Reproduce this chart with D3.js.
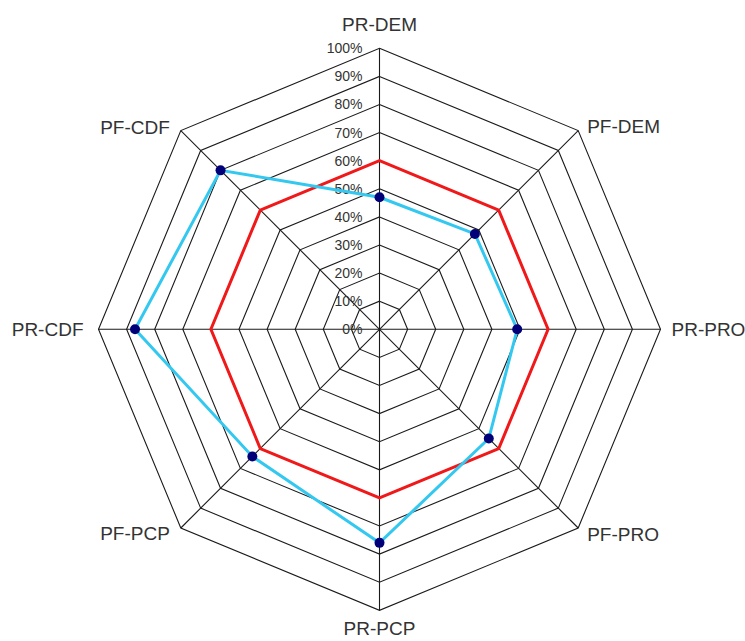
<!DOCTYPE html>
<html>
<head>
<meta charset="utf-8">
<script src="https://cdn.jsdelivr.net/npm/d3@7/dist/d3.min.js"></script>
<style>
  html, body { margin: 0; padding: 0; background: #fff; }
  svg { display: block; }
</style>
</head>
<body>
<svg id="chart" width="745" height="641"></svg>
<script>
// ---- data ----
const categories = ["PR-DEM", "PF-DEM", "PR-PRO", "PF-PRO", "PR-PCP", "PF-PCP", "PR-CDF", "PF-CDF"];
const targetValues = [60, 60, 60, 60, 60, 60, 60, 60];
const actualValues = [47, 48, 49, 55, 76, 64, 87, 80];
const tickValues = [0, 10, 20, 30, 40, 50, 60, 70, 80, 90, 100];
const tickLabels = ["0%", "10%", "20%", "30%", "40%", "50%", "60%", "70%", "80%", "90%", "100%"];

// ---- layout ----
const cx = 379.5, cy = 329.3, R = 281;
const svg = d3.select("#chart");
const g = svg.append("g").attr("transform", `translate(${cx},${cy})`);

const r = d3.scaleLinear().domain([0, 100]).range([0, R]);
const angle = d3.scalePoint().domain(categories).range([0, 2 * Math.PI * (categories.length - 1) / categories.length]);

const pt = (cat, v) => {
  const a = angle(cat);
  return [r(v) * Math.sin(a), -r(v) * Math.cos(a)];
};

// grid octagons
const gridLine = d3.line().curve(d3.curveLinearClosed);
g.selectAll("path.grid")
  .data(tickValues.filter(t => t > 0))
  .join("path")
  .attr("class", "grid")
  .attr("d", t => gridLine(categories.map(c => pt(c, t))))
  .attr("fill", "none")
  .attr("stroke", "#1a1a1a")
  .attr("stroke-width", 1.1);

// spokes
g.selectAll("line.spoke")
  .data(categories)
  .join("line")
  .attr("class", "spoke")
  .attr("x1", 0).attr("y1", 0)
  .attr("x2", c => pt(c, 100)[0])
  .attr("y2", c => pt(c, 100)[1])
  .attr("stroke", "#1a1a1a")
  .attr("stroke-width", 1.1);

// tick labels along top axis
g.selectAll("text.tick")
  .data(tickValues)
  .join("text")
  .attr("class", "tick")
  .attr("x", -17)
  .attr("y", t => -r(t))
  .attr("dy", "0.35em")
  .attr("text-anchor", "end")
  .attr("font-family", "Liberation Sans, Arial, sans-serif")
  .attr("font-size", 14)
  .attr("fill", "#333")
  .text((t, i) => tickLabels[i]);

// series lines
const radial = d3.lineRadial()
  .angle((d, i) => angle(categories[i]))
  .radius(d => r(d))
  .curve(d3.curveLinearClosed);

g.append("path")
  .attr("d", radial(targetValues))
  .attr("fill", "none")
  .attr("stroke", "#f01818")
  .attr("stroke-width", 3);

g.append("path")
  .attr("d", radial(actualValues))
  .attr("fill", "none")
  .attr("stroke", "#33c8f0")
  .attr("stroke-width", 3);

g.selectAll("circle.dot")
  .data(actualValues)
  .join("circle")
  .attr("class", "dot")
  .attr("cx", (v, i) => pt(categories[i], v)[0])
  .attr("cy", (v, i) => pt(categories[i], v)[1])
  .attr("r", 5)
  .attr("fill", "#000078");

// category labels (offsets from the outer vertex)
const labelOffsets = [
  { dx: 0, dy: -17, anchor: "middle" },
  { dx: 9, dy: 2, anchor: "start" },
  { dx: 11, dy: 6.5, anchor: "start" },
  { dx: 9, dy: 13, anchor: "start" },
  { dx: 0, dy: 25, anchor: "middle" },
  { dx: -11, dy: 12.5, anchor: "end" },
  { dx: -15, dy: 6.5, anchor: "end" },
  { dx: -11, dy: 3, anchor: "end" }
];
g.selectAll("text.cat")
  .data(categories)
  .join("text")
  .attr("class", "cat")
  .attr("x", (c, i) => pt(c, 100)[0] + labelOffsets[i].dx)
  .attr("y", (c, i) => pt(c, 100)[1] + labelOffsets[i].dy)
  .attr("text-anchor", (c, i) => labelOffsets[i].anchor)
  .attr("font-family", "Liberation Sans, Arial, sans-serif")
  .attr("font-size", 19)
  .attr("fill", "#333")
  .text(c => c);
</script>
</body>
</html>
